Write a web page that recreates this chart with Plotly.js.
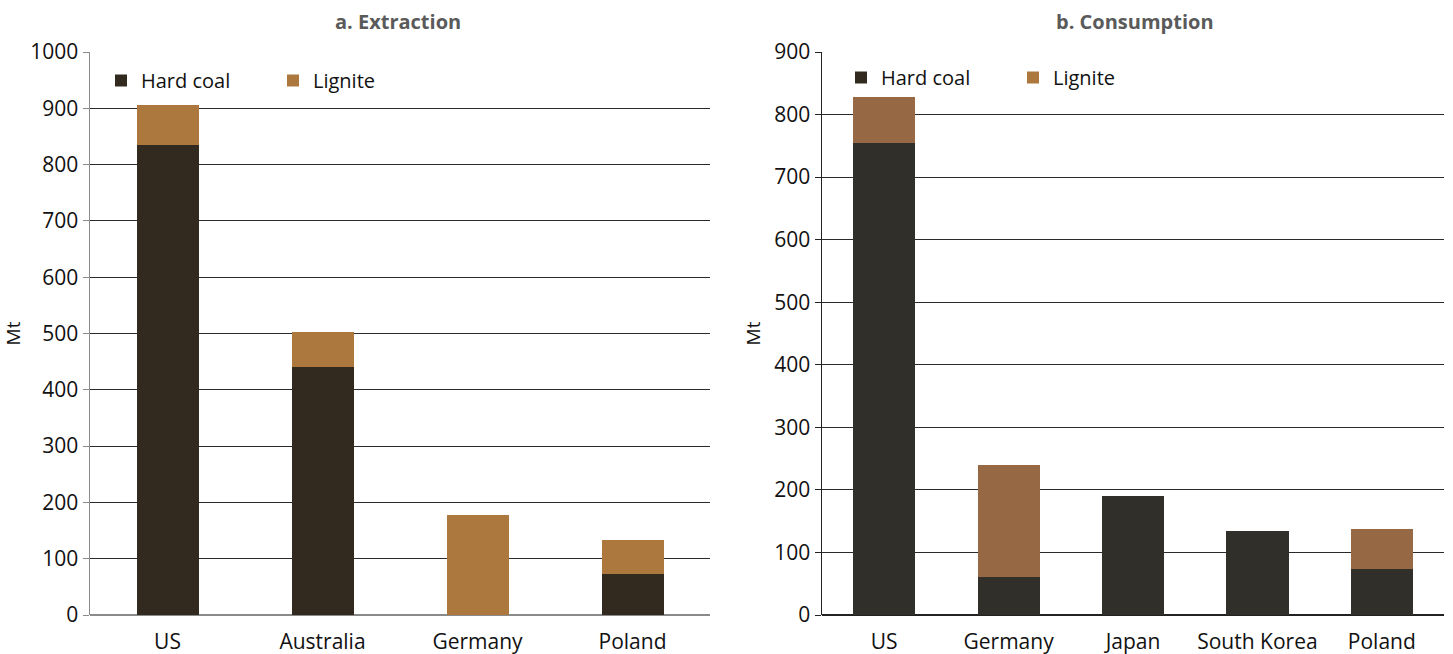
<!DOCTYPE html>
<html>
<head>
<meta charset="utf-8">
<script src="https://cdn.plot.ly/plotly-3.0.1.min.js"></script>
<style>html,body{margin:0;padding:0;background:#fff;}#chart{width:1453px;height:654px;}</style>
</head>
<body>
<div id="chart"></div>
<script>
// Panel a: Extraction (Mt)
const extractionCountries = ["US", "Australia", "Germany", "Poland"];
const extractionHardCoal = [834, 440, 0, 72];
const extractionLignite = [71, 62, 178, 61];

// Panel b: Consumption (Mt)
const consumptionCountries = ["US", "Germany", "Japan", "South Korea", "Poland"];
const consumptionHardCoal = [755, 61, 190, 135, 74];
const consumptionLignite = [73, 179, 0, 0, 64];

const seriesNames = ["Hard coal", "Lignite"];
const panelTitles = ["a. Extraction", "b. Consumption"];
const yTitle = "Mt";

const colA = {hard: "#332a1f", lig: "#ad783e"};
const colB = {hard: "#302f29", lig: "#966944"};
const FONT = "Open Sans, sans-serif";

const traces = [
  {type: "bar", x: extractionCountries, y: extractionHardCoal, name: seriesNames[0],
   marker: {color: colA.hard}, width: 0.4, xaxis: "x", yaxis: "y", legend: "legend", hoverinfo: "y"},
  {type: "bar", x: extractionCountries, y: extractionLignite, name: seriesNames[1],
   marker: {color: colA.lig}, width: 0.4, xaxis: "x", yaxis: "y", legend: "legend", hoverinfo: "y"},
  {type: "bar", x: consumptionCountries, y: consumptionHardCoal, name: seriesNames[0],
   marker: {color: colB.hard}, width: 0.5, xaxis: "x2", yaxis: "y2", showlegend: false, hoverinfo: "y"},
  {type: "bar", x: consumptionCountries, y: consumptionLignite, name: seriesNames[1],
   marker: {color: colB.lig}, width: 0.5, xaxis: "x2", yaxis: "y2", showlegend: false, hoverinfo: "y"},
  // legend entries for panel b (drawn in the same swatch colours as panel a's legend)
  {type: "bar", x: [null], y: [null], name: seriesNames[0], marker: {color: colA.hard},
   xaxis: "x2", yaxis: "y2", legend: "legend2", showlegend: true},
  {type: "bar", x: [null], y: [null], name: seriesNames[1], marker: {color: colA.lig},
   xaxis: "x2", yaxis: "y2", legend: "legend2", showlegend: true}
];

const W = 1453, H = 654;
const yDom = [39 / H, 602 / H];

function yax(range, dtick, zc, lc, anchor) {
  return {
    domain: yDom, anchor: anchor, range: range, dtick: dtick, tick0: 0, fixedrange: true,
    showgrid: true, gridcolor: "#2a2a2a", gridwidth: 1,
    zeroline: true, zerolinecolor: zc, zerolinewidth: 2,
    showline: true, linecolor: lc, linewidth: 1.5,
    ticks: "outside", ticklen: 6, tickcolor: lc, tickwidth: 1,
    tickfont: {family: FONT, size: 21, color: "#111"},
    title: {text: yTitle, font: {family: FONT, size: 19, color: "#111"}, standoff: 8},
    automargin: false
  };
}
function xax(dom, anchor) {
  return {
    domain: dom, anchor: anchor, type: "category", fixedrange: true,
    showgrid: false, zeroline: false, showline: false, ticks: "",
    tickfont: {family: FONT, size: 21, color: "#111"}, ticklabelstandoff: 12,
    automargin: false
  };
}
function leg(x, y) {
  return {x: x, y: y, xanchor: "left", yanchor: "top", orientation: "h",
          traceorder: "normal",
          bgcolor: "rgba(0,0,0,0)", font: {family: FONT, size: 20, color: "#111"},
          itemwidth: 30, tracegroupgap: 0, entrywidth: 127};
}

const layout = {
  width: W, height: H,
  margin: {l: 0, r: 0, t: 0, b: 0},
  paper_bgcolor: "#fff", plot_bgcolor: "#fff",
  barmode: "stack",
  showlegend: true,
  font: {family: FONT, color: "#111"},
  xaxis: xax([90 / W, 710 / W], "y"),
  yaxis: yax([0, 1000], 100, "#8a8a8a", "#8a8a8a", "x"),
  xaxis2: xax([822 / W, 1444 / W], "y2"),
  yaxis2: yax([0, 900], 100, "#222", "#222", "x2"),
  legend: leg(101 / W, 1 - 61 / H),
  legend2: leg(841 / W, 1 - 58 / H),
  annotations: [
    {text: "<b>" + panelTitles[0] + "</b>", x: 398 / W, y: 1 - 21 / H, xref: "paper", yref: "paper",
     xanchor: "center", yanchor: "middle", showarrow: false, font: {family: FONT, size: 20, color: "#5a5a5a"}},
    {text: "<b>" + panelTitles[1] + "</b>", x: 1135 / W, y: 1 - 21 / H, xref: "paper", yref: "paper",
     xanchor: "center", yanchor: "middle", showarrow: false, font: {family: FONT, size: 20, color: "#5a5a5a"}}
  ]
};

Plotly.newPlot("chart", traces, layout, {displayModeBar: false, staticPlot: true});
</script>
</body>
</html>
